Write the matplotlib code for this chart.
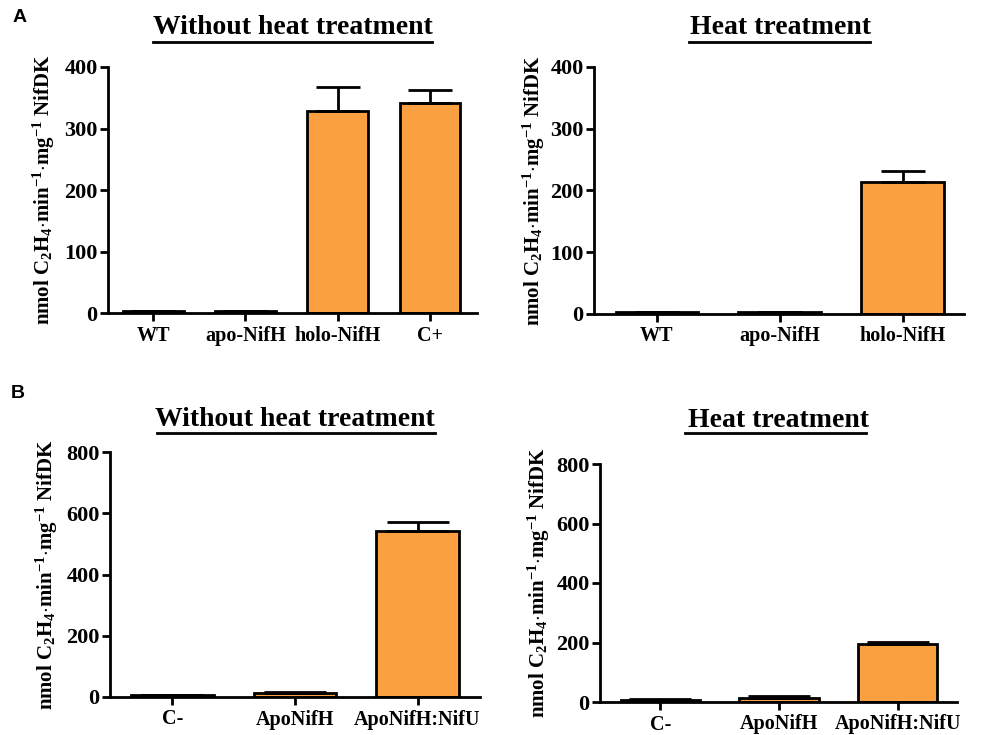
import matplotlib
matplotlib.use("Agg")
import matplotlib.pyplot as plt
from matplotlib.lines import Line2D

# ---- data ----
a_left_cats = ["WT", "apo-NifH", "holo-NifH", "C+"]
a_left_vals = [3, 3, 328, 342]
a_left_err = [0.5, 0.5, 40, 20]

a_right_cats = ["WT", "apo-NifH", "holo-NifH"]
a_right_vals = [3, 3, 214]
a_right_err = [0.5, 0.5, 18]

b_left_cats = ["C-", "ApoNifH", "ApoNifH:NifU"]
b_left_vals = [5, 12, 542]
b_left_err = [2, 3, 30]

b_right_cats = ["C-", "ApoNifH", "ApoNifH:NifU"]
b_right_vals = [8, 13, 195]
b_right_err = [3, 6, 8]

a_yticks = [0, 100, 200, 300, 400]
b_yticks = [0, 200, 400, 600, 800]

title_without = "Without heat treatment"
title_heat = "Heat treatment"
ylabel = r"nmol C$_2$H$_4$$\cdot$min$^{-1}$$\cdot$mg$^{-1}$ NifDK"

# ---- style ----
plt.rcParams['font.family'] = ['Liberation Serif', 'DejaVu Serif']
plt.rcParams['font.weight'] = 'bold'
plt.rcParams['mathtext.fontset'] = 'custom'
plt.rcParams['mathtext.rm'] = 'Liberation Serif:bold'
plt.rcParams['mathtext.it'] = 'Liberation Serif:bold'
plt.rcParams['mathtext.bf'] = 'Liberation Serif:bold'
plt.rcParams['mathtext.default'] = 'rm'

BAR = '#FBA040'
W, H = 982, 735
fig = plt.figure(figsize=(W / 100, H / 100), dpi=100)


def px_axes(x0, x1, ytop, ybot):
    return fig.add_axes([x0 / W, 1 - ybot / H, (x1 - x0) / W, (ybot - ytop) / H])


def draw(ax, cats, vals, errs, yticks, xlim, width, capsize, labx):
    x = list(range(len(cats)))
    ax.bar(x, vals, width=width, color=BAR, edgecolor='black', linewidth=2, zorder=2)
    ax.errorbar(x, vals, yerr=[[0] * len(errs), errs], fmt='none', ecolor='black',
                elinewidth=2, capsize=capsize, capthick=2, zorder=3)
    ax.set_xlim(*xlim)
    ax.set_ylim(yticks[0], yticks[-1])
    ax.set_yticks(yticks)
    ax.set_xticks(x)
    ax.set_xticklabels(cats, fontsize=14.5, fontweight='bold')
    for lab in ax.get_yticklabels():
        lab.set_fontsize(16)
        lab.set_fontweight('bold')
    for s in ['top', 'right']:
        ax.spines[s].set_visible(False)
    for s in ['left', 'bottom']:
        ax.spines[s].set_linewidth(2)
    ax.tick_params(axis='y', width=2, length=6, direction='out', pad=1.5)
    ax.tick_params(axis='x', width=2, length=6, direction='out', pad=3)
    ax.set_ylabel(ylabel, fontsize=15, fontweight='bold')
    ax.yaxis.set_label_coords(labx, 0.5)


ax1 = px_axes(108, 477, 67, 313)
draw(ax1, a_left_cats, a_left_vals, a_left_err, a_yticks, (-0.49, 3.51), 0.66, 16, -0.138)
ax2 = px_axes(594, 964, 67, 314)
draw(ax2, a_right_cats, a_right_vals, a_right_err, a_yticks, (-0.51, 2.5), 0.67, 16, -0.127)
ax3 = px_axes(110, 480, 452, 697)
draw(ax3, b_left_cats, b_left_vals, b_left_err, b_yticks, (-0.51, 2.51), 0.67, 22, -0.135)
ax4 = px_axes(600, 957, 464, 702)
draw(ax4, b_right_cats, b_right_vals, b_right_err, b_yticks, (-0.51, 2.5), 0.67, 22, -0.134)


def title(text, cx, cy, ux0, ux1, uy):
    fig.text(cx / W, 1 - cy / H, text, ha='center', va='center', fontsize=20, fontweight='bold')
    fig.add_artist(Line2D([ux0 / W, ux1 / W], [1 - uy / H, 1 - uy / H], color='black', lw=2))


title(title_without, 293, 28, 153, 432, 42)
title(title_heat, 780, 28, 689, 870, 42)
title(title_without, 295, 419, 157, 435, 433)
title(title_heat, 778, 421, 685, 866, 433)

fig.text(20 / W, 1 - 18 / H, "A", ha='center', va='center', fontsize=14, fontweight='bold', family='Liberation Sans')
fig.text(18 / W, 1 - 393 / H, "B", ha='center', va='center', fontsize=14, fontweight='bold', family='Liberation Sans')

fig.savefig("out.png", dpi=100)
